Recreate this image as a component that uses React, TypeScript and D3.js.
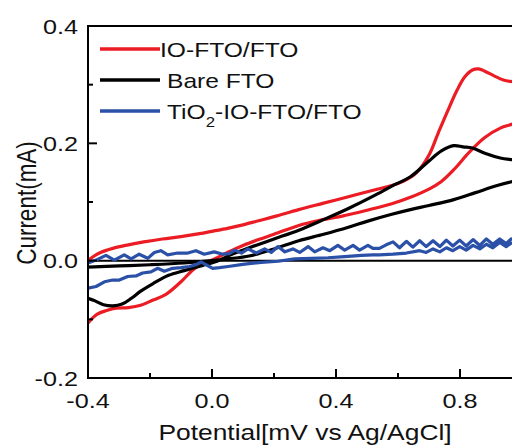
import React from 'react';
import * as d3 from 'd3';

// potential (V) / current (mA) pairs
const redForward: [number, number][] = [
  [-0.4, 0.0], [-0.38, 0.008], [-0.36, 0.014], [-0.32, 0.021], [-0.27, 0.027], [-0.22, 0.032],
  [-0.16, 0.037], [-0.1, 0.041], [-0.04, 0.046], [0.0, 0.05], [0.05, 0.055], [0.1, 0.061],
  [0.15, 0.068], [0.2, 0.075], [0.28, 0.087], [0.36, 0.098], [0.44, 0.109], [0.52, 0.12],
  [0.58, 0.128], [0.62, 0.136], [0.66, 0.15], [0.7, 0.18], [0.73, 0.218], [0.76, 0.255],
  [0.79, 0.29], [0.815, 0.313], [0.84, 0.325], [0.86, 0.327], [0.88, 0.323], [0.91, 0.315],
  [0.94, 0.308], [0.97, 0.305], [1.0, 0.303],
];
const redReverse: [number, number][] = [
  [1.0, 0.24], [0.97, 0.233], [0.93, 0.226], [0.88, 0.21], [0.83, 0.185], [0.78, 0.155],
  [0.74, 0.135], [0.7, 0.122], [0.64, 0.108], [0.58, 0.097], [0.5, 0.086], [0.42, 0.076],
  [0.34, 0.068], [0.28, 0.06], [0.2, 0.045], [0.15, 0.036], [0.1, 0.026], [0.05, 0.014],
  [0.0, 0.001], [-0.03, -0.005], [-0.06, -0.015], [-0.1, -0.036], [-0.15, -0.058],
  [-0.19, -0.067], [-0.23, -0.076], [-0.27, -0.08], [-0.31, -0.081], [-0.34, -0.085],
  [-0.37, -0.091], [-0.4, -0.106],
];
const bareForward: [number, number][] = [
  [-0.4, -0.064], [-0.38, -0.068], [-0.35, -0.075], [-0.32, -0.077], [-0.29, -0.074],
  [-0.26, -0.064], [-0.23, -0.052], [-0.19, -0.039], [-0.14, -0.025], [-0.09, -0.017],
  [-0.03, -0.008], [0.02, 0.0], [0.06, 0.01], [0.12, 0.022], [0.2, 0.037], [0.28, 0.052],
  [0.36, 0.07], [0.44, 0.089], [0.52, 0.11], [0.58, 0.127], [0.64, 0.143], [0.7, 0.17],
  [0.74, 0.187], [0.78, 0.196], [0.81, 0.194], [0.84, 0.192], [0.88, 0.183], [0.93, 0.175],
  [0.97, 0.172], [1.0, 0.17],
];
const bareReverse: [number, number][] = [
  [1.0, 0.138], [0.97, 0.135], [0.92, 0.128], [0.85, 0.116], [0.78, 0.104], [0.7, 0.094],
  [0.64, 0.087], [0.58, 0.079], [0.5, 0.067], [0.44, 0.057], [0.36, 0.045], [0.28, 0.034],
  [0.2, 0.02], [0.12, 0.008], [0.05, 0.003], [0.0, 0.0], [-0.09, -0.004], [-0.2, -0.007],
  [-0.3, -0.009], [-0.4, -0.011],
];
const tioForward: [number, number][] = [
  [-0.4, -0.004], [-0.374, 0.001], [-0.342, 0.009], [-0.315, 0.001], [-0.283, 0.01],
  [-0.261, 0.003], [-0.235, 0.011], [-0.207, 0.004], [-0.186, 0.014], [-0.165, 0.017],
  [-0.143, 0.01], [-0.111, 0.013], [-0.078, 0.013], [-0.052, 0.017], [-0.025, 0.011],
  [0.007, 0.015], [0.035, 0.011], [0.056, 0.012], [0.073, 0.018], [0.095, 0.013],
  [0.116, 0.02], [0.143, 0.013], [0.17, 0.02], [0.191, 0.014], [0.213, 0.024], [0.235, 0.015],
  [0.261, 0.02], [0.283, 0.014], [0.31, 0.024], [0.331, 0.015], [0.358, 0.022], [0.38, 0.017],
  [0.406, 0.026], [0.428, 0.018], [0.455, 0.026], [0.476, 0.018], [0.503, 0.026],
  [0.519, 0.021], [0.54, 0.021], [0.562, 0.027], [0.584, 0.032], [0.605, 0.022],
  [0.627, 0.033], [0.648, 0.023], [0.67, 0.034], [0.691, 0.024], [0.713, 0.034],
  [0.735, 0.024], [0.756, 0.035], [0.777, 0.025], [0.799, 0.035], [0.82, 0.025],
  [0.842, 0.036], [0.864, 0.026], [0.885, 0.037], [0.906, 0.028], [0.928, 0.037],
  [0.949, 0.029], [0.965, 0.037], [1.0, 0.035],
];
const tioReverse: [number, number][] = [
  [1.0, 0.028], [0.965, 0.03], [0.949, 0.024], [0.928, 0.031], [0.906, 0.022], [0.885, 0.028],
  [0.864, 0.02], [0.842, 0.026], [0.82, 0.018], [0.799, 0.024], [0.777, 0.017], [0.756, 0.022],
  [0.735, 0.015], [0.713, 0.02], [0.691, 0.014], [0.67, 0.017], [0.627, 0.013], [0.584, 0.011],
  [0.54, 0.01], [0.519, 0.01], [0.482, 0.009], [0.428, 0.007], [0.374, 0.005], [0.32, 0.004],
  [0.267, 0.003], [0.213, -0.001], [0.159, -0.003], [0.105, -0.006], [0.052, -0.01],
  [0.024, -0.012], [0.002, -0.013], [-0.019, -0.007], [-0.035, -0.002], [-0.052, -0.007],
  [-0.073, -0.01], [-0.1, -0.012], [-0.127, -0.013], [-0.154, -0.018], [-0.175, -0.013],
  [-0.197, -0.019], [-0.224, -0.021], [-0.245, -0.026], [-0.272, -0.027], [-0.299, -0.033],
  [-0.32, -0.033], [-0.347, -0.036], [-0.374, -0.044], [-0.4, -0.047],
];

const xMajor = [-0.4, 0.0, 0.4, 0.8];
const xMajorLabels = ['-0.4', '0.0', '0.4', '0.8'];
const xMinor = [-0.2, 0.2, 0.6];
const yMajor = [-0.2, 0.0, 0.2, 0.4];
const yMajorLabels = ['-0.2', '0.0', '0.2', '0.4'];
const yMinor = [-0.1, 0.1, 0.3];

const seriesNames = ['IO-FTO/FTO', 'Bare FTO', 'TiO2-IO-FTO/FTO'];
const seriesColors = ['#ec1c24', '#000000', '#2b50a8'];

const FONT = '"Liberation Sans", Arial, Helvetica, sans-serif';
const STRETCH = 1.2;

const App = () => {
  const x = d3.scaleLinear().domain([-0.4, 1.0]).range([88, 522]);
  const y = d3.scaleLinear().domain([-0.2, 0.4]).range([378, 26]);
  const [x0, x1] = x.range();
  const [yb, yt] = y.range();

  const smooth = d3.line<[number, number]>()
    .x(d => x(d[0]))
    .y(d => y(d[1]))
    .curve(d3.curveCatmullRom.alpha(0.5));
  const jagged = d3.line<[number, number]>()
    .x(d => x(d[0]))
    .y(d => y(d[1]));

  const loops = [
    { d: smooth([...redForward, ...redReverse]), color: seriesColors[0] },
    { d: smooth([...bareForward, ...bareReverse]), color: seriesColors[1] },
    { d: jagged([...tioForward, ...tioReverse]), color: seriesColors[2] },
  ];

  const label = (tx: number, ty: number, text: React.ReactNode, size: number, anchor: string, key?: string) => (
    <g key={key} transform={`translate(${tx},${ty}) scale(${STRETCH},1)`}>
      <text fontSize={size} textAnchor={anchor} fontFamily={FONT} fill="#111">{text}</text>
    </g>
  );

  return (
    <svg width={512} height={446} style={{ position: 'absolute', left: 0, top: 0, background: '#fff' }}>
      <defs>
        <clipPath id="plot">
          <rect x={x0} y={yt} width={x1 - x0} height={yb - yt} />
        </clipPath>
      </defs>

      {/* zero current line */}
      <line x1={x0} x2={x1} y1={y(0)} y2={y(0)} stroke="#000" strokeWidth={2} />

      <g clipPath="url(#plot)" fill="none" strokeWidth={3.2} strokeLinejoin="round">
        {loops.map((l, i) => <path key={i} d={l.d ?? ''} stroke={l.color} />)}
      </g>

      {/* frame */}
      <g stroke="#000" strokeWidth={2} fill="none">
        <line x1={x0} x2={x0} y1={yt - 1} y2={yb + 1} />
        <line x1={x0} x2={x1} y1={yb} y2={yb} />
        <line x1={x0} x2={x1} y1={yt} y2={yt} />
        {xMajor.map(v => <line key={'xM' + v} x1={x(v)} x2={x(v)} y1={yb} y2={yb - 9} />)}
        {xMinor.map(v => <line key={'xm' + v} x1={x(v)} x2={x(v)} y1={yb} y2={yb - 5} />)}
        {yMajor.map(v => <line key={'yM' + v} x1={x0} x2={x0 + 9} y1={y(v)} y2={y(v)} />)}
        {yMinor.map(v => <line key={'ym' + v} x1={x0} x2={x0 + 5} y1={y(v)} y2={y(v)} />)}
      </g>

      {xMajor.map((v, i) => label(x(v), yb + 30, xMajorLabels[i], 21, 'middle', 'xl' + v))}
      {yMajor.map((v, i) => label(x0 - 10, y(v) + 7.5, yMajorLabels[i], 21, 'end', 'yl' + v))}

      {label(305, 440, 'Potential[mV vs Ag/AgCl]', 22, 'middle')}
      <g transform={`translate(36,203) scale(${STRETCH},1) rotate(-90)`}>
        <text fontSize={22.5} textAnchor="middle" fontFamily={FONT} fill="#111">Current(mA)</text>
      </g>

      {/* legend */}
      {seriesNames.map((name, i) => {
        const ly = 49 + i * 31;
        return (
          <g key={name}>
            <line x1={100} x2={160} y1={ly} y2={ly} stroke={seriesColors[i]} strokeWidth={3.5} />
            {i === 2
              ? label(167, ly + 8, <>TiO<tspan fontSize={14} dy={8}>2</tspan><tspan dy={-8}>-IO-FTO/FTO</tspan></>, 20.5, 'start', 'lg' + i)
              : label(i === 0 ? 160 : 167, ly + 8, name, 20.5, 'start', 'lg' + i)}
          </g>
        );
      })}
    </svg>
  );
};

export default App;
